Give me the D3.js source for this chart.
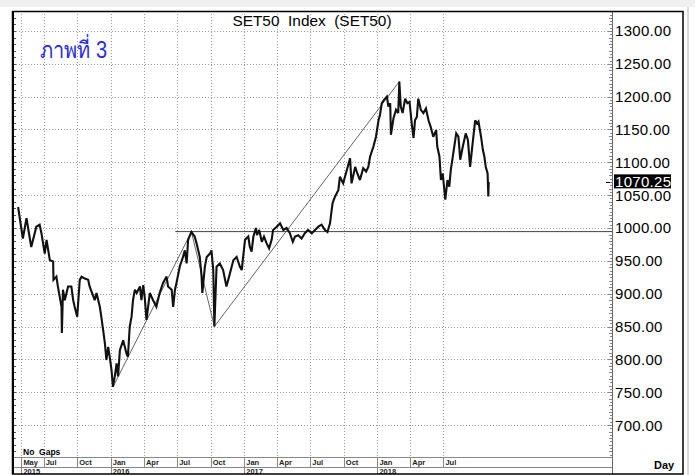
<!DOCTYPE html>
<html><head><meta charset="utf-8">
<script src="https://cdn.jsdelivr.net/npm/d3@7"></script>
<style>
body{margin:0;background:#fff}
svg{display:block}
text{font-family:"Liberation Sans",Arial,Helvetica,sans-serif}
</style>
</head><body>
<svg id="c" width="695" height="475"></svg>
<script>
// ---------- data ----------
const chartTitle = "SET50  Index  (SET50)";
const figureLabel = "ภาพที่ 3";
const lastValue = 1070.25;
const noteText = "No  Gaps";
const periodText = "Day";

const priceDates = ["2015-04-22","2015-05-05","2015-05-15","2015-05-28","2015-06-11","2015-06-20","2015-06-25","2015-07-04","2015-07-09","2015-07-18",
"2015-07-27","2015-07-28","2015-08-05","2015-08-09","2015-08-19","2015-08-20","2015-08-23","2015-08-28","2015-09-06","2015-09-15",
"2015-09-20","2015-09-24","2015-10-01","2015-10-08","2015-10-13","2015-10-22","2015-10-31","2015-11-04","2015-11-18","2015-11-23",
"2015-12-02","2015-12-06","2015-12-11","2015-12-16","2015-12-20","2015-12-25","2015-12-29","2016-01-03","2016-01-07","2016-01-12",
"2016-01-17","2016-01-21","2016-01-26","2016-02-04","2016-02-13","2016-02-17","2016-02-22","2016-02-27","2016-03-02","2016-03-07",
"2016-03-12","2016-03-21","2016-03-25","2016-03-30","2016-04-03","2016-04-08","2016-04-17","2016-04-26","2016-05-05","2016-05-14",
"2016-05-23","2016-06-02","2016-06-06","2016-06-16","2016-06-20","2016-06-25","2016-06-29","2016-07-08","2016-07-17","2016-07-22",
"2016-07-27","2016-07-31","2016-08-09","2016-08-18","2016-08-23","2016-09-01","2016-09-06","2016-09-08","2016-09-15","2016-09-20",
"2016-09-29","2016-10-03","2016-10-08","2016-10-11","2016-10-17","2016-10-26","2016-11-04","2016-11-13","2016-11-18","2016-12-02",
"2016-12-11","2016-12-20","2016-12-25","2017-01-03","2017-01-12","2017-01-16","2017-01-21","2017-01-26","2017-02-02","2017-02-05",
"2017-02-11","2017-02-18","2017-02-24","2017-03-03","2017-03-10","2017-03-17","2017-03-21","2017-03-31","2017-04-09","2017-04-18",
"2017-04-27","2017-05-06","2017-05-14","2017-05-20","2017-05-29","2017-06-07","2017-06-16","2017-06-25","2017-07-05","2017-07-14",
"2017-07-23","2017-08-01","2017-08-10","2017-08-17","2017-08-24","2017-08-31","2017-09-07","2017-09-16","2017-09-20","2017-09-29",
"2017-10-09","2017-10-18","2017-10-22","2017-11-01","2017-11-07","2017-11-14","2017-11-23","2017-12-01","2017-12-07","2017-12-12",
"2017-12-21","2017-12-28","2018-01-04","2018-01-08","2018-01-13","2018-01-19","2018-01-27","2018-01-31","2018-02-05","2018-02-07",
"2018-02-14","2018-02-21","2018-02-27","2018-03-02","2018-03-06","2018-03-11","2018-03-18","2018-03-24","2018-03-30","2018-04-05",
"2018-04-10","2018-04-14","2018-04-19","2018-04-23","2018-04-30","2018-05-07","2018-05-14","2018-05-21","2018-05-27","2018-06-03",
"2018-06-11","2018-06-14","2018-06-20","2018-06-24","2018-06-29","2018-07-06","2018-07-12","2018-07-17","2018-07-21","2018-07-28",
"2018-08-05","2018-08-11","2018-08-16","2018-08-23","2018-08-31","2018-09-06","2018-09-12","2018-09-20","2018-09-26","2018-10-01",
"2018-10-05","2018-10-12","2018-10-17","2018-10-21","2018-10-25","2018-10-30","2018-11-01","2018-11-02"];

const priceValues = [1032,984,1015,971,1002,1005,992,961,982,951,
949,921,926,911,880,840,906,890,911,911,
890,880,865,921,926,923,921,911,890,901,
880,865,845,824,799,819,804,784,758,774,
794,774,814,829,809,804,850,865,890,906,
901,911,890,913,895,860,901,890,880,901,
916,926,911,906,880,906,916,941,956,966,
946,982,994,987,977,956,926,901,941,956,
961,966,936,850,941,946,936,911,921,951,
956,941,936,982,987,972,964,987,1000,989,
997,979,987,977,969,982,997,1002,1007,997,
1000,992,979,987,989,984,992,997,992,997,
1002,1005,997,994,1007,1038,1048,1058,1078,1068,
1088,1106,1068,1093,1083,1073,1091,1086,1093,1109,
1124,1139,1164,1172,1190,1195,1200,1185,1190,1142,
1167,1180,1175,1223,1185,1175,1197,1190,1192,1159,
1137,1164,1169,1197,1180,1175,1182,1164,1154,1139,
1149,1124,1109,1073,1083,1043,1073,1063,1088,1114,
1144,1139,1104,1124,1144,1134,1093,1134,1164,1159,
1162,1139,1119,1109,1093,1083,1048,1070.25];

// hand-drawn trend lines (start date, start value, end date, end value)
const trendStartDates  = ["2016-01-07","2016-08-09","2016-10-11"];
const trendStartValues = [758, 994, 850];
const trendEndDates    = ["2016-08-09","2016-10-11","2018-03-02"];
const trendEndValues   = [994, 850, 1223];
// horizontal support line
const supportStartDate = "2016-06-26";
const supportValue = 994.5;

const yTicks = [700,750,800,850,900,950,1000,1050,1100,1150,1200,1250,1300];
const monthTickDates = ["2015-05-01","2015-07-01","2015-10-01","2016-01-01","2016-04-01","2016-07-01","2016-10-01",
  "2017-01-01","2017-04-01","2017-07-01","2017-10-01","2018-01-01","2018-04-01","2018-07-01"];
const monthLabels = ["May","Jul","Oct","Jan","Apr","Jul","Oct","Jan","Apr","Jul","Oct","Jan","Apr","Jul"];
const yearTickDates = ["2015-05-01","2016-01-01","2017-01-01","2018-01-01"];
const yearLabels = ["2015","2016","2017","2018"];

// ---------- layout ----------
const parse = d3.timeParse("%Y-%m-%d");
const L = 13, R = 612, T = 11, B = 457;
const x = d3.scaleTime().domain([parse("2015-04-08"), parse("2019-10-06")]).range([L, R]);
const y = d3.scaleLinear().domain([651.3, 1330.4]).range([B, T]);

const svg = d3.select("#c");

// top light strip and window edge
svg.append("rect").attr("x",0).attr("y",0).attr("width",695).attr("height",7).attr("fill","#f0f0f0");
svg.append("line").attr("x1",688).attr("x2",688).attr("y1",7).attr("y2",475).attr("stroke","#b8b8b8").attr("stroke-width",1);

// gridlines
const grid = svg.append("g");
grid.selectAll("line.h").data(yTicks).join("line")
  .attr("x1",L).attr("x2",R).attr("y1",d=>Math.round(y(d))+0.5).attr("y2",d=>Math.round(y(d))+0.5)
  .attr("stroke","#9a9a9a").attr("stroke-dasharray","1,2");
grid.selectAll("line.v").data(monthTickDates).join("line")
  .attr("x1",d=>Math.round(x(parse(d)))+0.5).attr("x2",d=>Math.round(x(parse(d)))+0.5)
  .attr("y1",T).attr("y2",B).attr("stroke","#9a9a9a").attr("stroke-dasharray","1,2");

// left edge minor ticks
const minorLeft = d3.range(660, 1331, 10);
svg.append("g").selectAll("line").data(minorLeft).join("line")
  .attr("x1",L).attr("x2",L+3).attr("y1",d=>Math.round(y(d))+0.5).attr("y2",d=>Math.round(y(d))+0.5)
  .attr("stroke","#555");

// right axis ruler
svg.append("line").attr("x1",R+0.5).attr("x2",R+0.5).attr("y1",T).attr("y2",474).attr("stroke","#666");
const minorRight = d3.range(655, 1331, 5);
svg.append("g").selectAll("line").data(minorRight).join("line")
  .attr("x1",d=> d%50===0 ? R-4 : (d%10===0 ? R-3 : R-2)).attr("x2",R)
  .attr("y1",d=>Math.round(y(d))+0.5).attr("y2",d=>Math.round(y(d))+0.5)
  .attr("stroke","#888");

// y labels
svg.append("g").selectAll("text").data(yTicks).join("text")
  .attr("x",R+3).attr("y",d=>y(d)+5.5)
  .attr("font-size",15).attr("letter-spacing",0.3).attr("fill","#000")
  .text(d=>d3.format(".2f")(d));

// support line
svg.append("line")
  .attr("x1",x(parse(supportStartDate))).attr("x2",R)
  .attr("y1",y(supportValue)).attr("y2",y(supportValue))
  .attr("stroke","#444").attr("stroke-width",1);

// trend lines
svg.append("g").selectAll("line").data(trendStartDates).join("line")
  .attr("x1",(d,i)=>x(parse(d))).attr("y1",(d,i)=>y(trendStartValues[i]))
  .attr("x2",(d,i)=>x(parse(trendEndDates[i]))).attr("y2",(d,i)=>y(trendEndValues[i]))
  .attr("stroke","#555").attr("stroke-width",0.9);

// price line
const pts = priceDates.map((d,i)=>[parse(d), priceValues[i]]);
const line = d3.line().x(d=>x(d[0])).y(d=>y(d[1]));
svg.append("path").attr("d",line(pts)).attr("fill","none")
  .attr("stroke","#111").attr("stroke-width",2.1).attr("stroke-linejoin","miter").attr("stroke-miterlimit",3);

// last value marker
const ly = y(lastValue);
svg.append("line").attr("x1",R-6).attr("x2",R-2).attr("y1",Math.round(ly)+0.5).attr("y2",Math.round(ly)+0.5).attr("stroke","#000");
svg.append("rect").attr("x",R+2).attr("y",ly-7.5).attr("width",57).attr("height",14).attr("fill","#000");
svg.append("text").attr("x",R+3).attr("y",ly+5).attr("font-size",15).attr("letter-spacing",0.3)
  .attr("fill","#fff").text(d3.format(".2f")(lastValue));

// bottom time band
svg.append("line").attr("x1",L).attr("x2",R).attr("y1",B+0.5).attr("y2",B+0.5).attr("stroke","#888");
svg.append("line").attr("x1",L).attr("x2",R).attr("y1",467.5).attr("y2",467.5).attr("stroke","#888");
svg.append("g").selectAll("line").data(monthTickDates).join("line")
  .attr("x1",d=>Math.round(x(parse(d)))+0.5).attr("x2",d=>Math.round(x(parse(d)))+0.5)
  .attr("y1",B).attr("y2",467).attr("stroke","#888");
svg.append("g").selectAll("line").data(yearTickDates).join("line")
  .attr("x1",d=>Math.round(x(parse(d)))+0.5).attr("x2",d=>Math.round(x(parse(d)))+0.5)
  .attr("y1",467).attr("y2",474).attr("stroke","#888");
svg.append("g").selectAll("text").data(monthTickDates).join("text")
  .attr("x",d=>x(parse(d))+2).attr("y",465).attr("font-size",7.5).attr("font-weight","bold").attr("fill","#222")
  .text((d,i)=>monthLabels[i]);
svg.append("g").selectAll("text").data(yearTickDates).join("text")
  .attr("x",d=>x(parse(d))+2).attr("y",473.5).attr("font-size",7.5).attr("font-weight","bold").attr("fill","#222")
  .text((d,i)=>yearLabels[i]);

svg.append("text").attr("x",23).attr("y",455).attr("font-size",8.5).attr("font-weight","bold")
  .style("white-space","pre").text(noteText);
svg.append("text").attr("x",654).attr("y",468.5).attr("font-size",11).attr("font-weight","bold").text(periodText);

// frame
svg.append("rect").attr("x",12.5).attr("y",11.5).attr("width",670.5).attr("height",462.5)
  .attr("fill","none").attr("stroke","#000").attr("stroke-width",1.5);
svg.append("line").attr("x1",13).attr("x2",13).attr("y1",11).attr("y2",474).attr("stroke","#000").attr("stroke-width",2);

// title and figure label
svg.append("text").attr("x",312).attr("y",26).attr("text-anchor","middle").attr("font-size",15.4)
  .style("white-space","pre").text(chartTitle);
svg.append("text").attr("x",40).attr("y",58).attr("font-size",23).attr("fill","#2a2ae6")
  .attr("textLength",67).attr("lengthAdjust","spacingAndGlyphs")
  .attr("font-family","'Noto Serif Thai','Noto Sans Thai','Loma','Garuda','Tlwg Typo','DejaVu Serif',serif")
  .text(figureLabel);
</script>
</body></html>
